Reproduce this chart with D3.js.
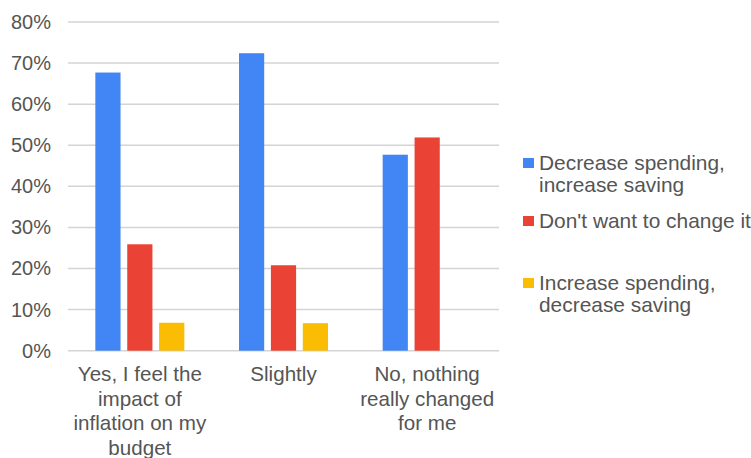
<!DOCTYPE html>
<html>
<head>
<meta charset="utf-8">
<script src="https://cdn.jsdelivr.net/npm/d3@7"></script>
<style>
  body { margin: 0; background: #fff; }
  text { font-family: Arial, "Liberation Sans", sans-serif; fill: #555; }
</style>
</head>
<body>
<div id="chart"></div>
<script>
    // categories (line breaks as in the picture)
    const categories = [
        "Yes, I feel the\nimpact of\ninflation on my\nbudget",
        "Slightly",
        "No, nothing\nreally changed\nfor me"
    ];
    const seriesNames = ["Decrease spending,\nincrease saving", "Don't want to change it", "Increase spending,\ndecrease saving"];
    const seriesColors = ["#4285F4", "#EA4335", "#FBBC04"];

    // values in percent
    const decreaseSpending = [67.7, 72.4, 47.7];
    const dontChange = [25.9, 20.8, 51.9];
    const increaseSpending = [6.8, 6.7, 0];

    const yTicks = [0, 10, 20, 30, 40, 50, 60, 70, 80];

    const width = 751, height = 458;
    const plot = { left: 68, right: 499, top: 22, bottom: 350.7 };

    const rows = categories.map((c, i) => ({
        cat: c,
        values: [decreaseSpending[i], dontChange[i], increaseSpending[i]]
    }));

    const svg = d3.select("#chart").append("svg")
        .attr("width", width)
        .attr("height", height);

    const x0 = d3.scaleBand()
        .domain(categories)
        .range([plot.left, plot.right]);

    const x1 = d3.scaleBand()
        .domain(d3.range(seriesNames.length))
        .range([0, 89])
        .paddingInner(0.21);

    const y = d3.scaleLinear()
        .domain([0, 80])
        .range([plot.bottom, plot.top]);

    // gridlines
    svg.append("g")
        .selectAll("line")
        .data(yTicks)
        .enter()
        .append("line")
            .attr("x1", plot.left)
            .attr("x2", plot.right)
            .attr("y1", d => y(d))
            .attr("y2", d => y(d))
            .attr("stroke", "#d4d4d4")
            .attr("stroke-width", 1.5);

    // y axis labels
    svg.append("g")
        .attr("transform", `translate(51,0)`)
        .call(d3.axisLeft(y).tickValues(yTicks).tickFormat(d => d + "%").tickSize(0).tickPadding(0))
        .call(g => g.select(".domain").remove())
        .call(g => g.selectAll("text")
            .style("font-size", "20px")
            .attr("fill", "#555")
            .attr("font-family", null));

    // bars
    const groupOffset = (x0.bandwidth() - 89) / 2;
    svg.append("g")
        .selectAll("g")
        .data(rows)
        .enter()
        .append("g")
            .attr("transform", d => `translate(${x0(d.cat) + groupOffset},0)`)
        .selectAll("rect")
        .data(d => d.values.map((v, i) => ({ v, i })))
        .enter()
        .append("rect")
            .attr("x", d => x1(d.i))
            .attr("width", x1.bandwidth())
            .attr("y", d => y(d.v))
            .attr("height", d => y(0) - y(d.v))
            .attr("fill", d => seriesColors[d.i]);

    // x axis labels
    const xLabels = svg.append("g")
        .selectAll("text")
        .data(categories)
        .enter()
        .append("text")
            .attr("x", d => x0(d) + x0.bandwidth() / 2)
            .attr("y", 381)
            .attr("text-anchor", "middle")
            .style("font-size", "20.6px");
    xLabels.selectAll("tspan")
        .data(d => d.split("\n"))
        .enter()
        .append("tspan")
            .attr("x", function() { return this.parentNode.getAttribute("x"); })
            .attr("dy", (d, i) => i === 0 ? 0 : 24.5)
            .text(d => d);

    // legend
    const legendY = [163, 221, 283];
    const legend = svg.append("g")
        .selectAll("g")
        .data(seriesNames)
        .enter()
        .append("g")
            .attr("transform", (d, i) => `translate(523,${legendY[i]})`);

    legend.append("rect")
        .attr("x", 0)
        .attr("y", -5)
        .attr("width", 11)
        .attr("height", 10)
        .attr("fill", (d, i) => seriesColors[i]);

    legend.append("text")
        .attr("x", 16)
        .attr("y", 7)
        .style("font-size", "20.9px")
        .selectAll("tspan")
        .data(d => d.split("\n"))
        .enter()
        .append("tspan")
            .attr("x", 16)
            .attr("dy", (d, i) => i === 0 ? 0 : 21.5)
            .text(d => d);
</script>
</body>
</html>
